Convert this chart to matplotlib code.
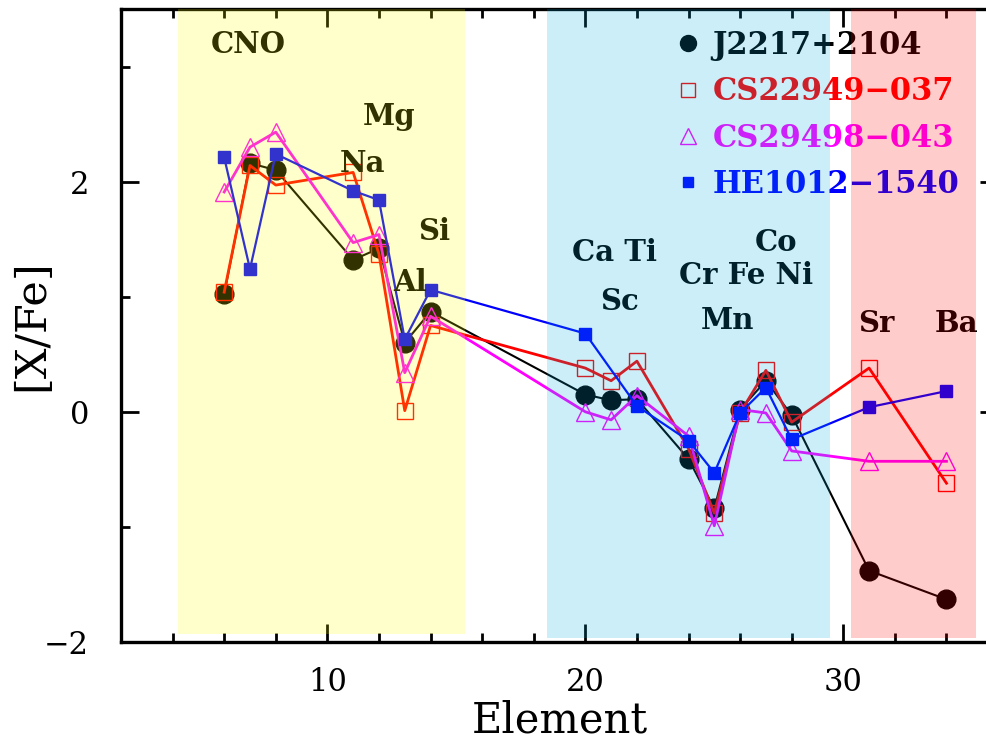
import matplotlib
matplotlib.use('Agg')
import matplotlib.pyplot as plt
from matplotlib.lines import Line2D
from matplotlib.ticker import MultipleLocator

# atomic numbers (Sr and Ba are placed at 31 and 34 on the plot)
z_all = [6, 7, 8, 11, 12, 13, 14, 20, 21, 22, 24, 25, 26, 27, 28, 31, 34]
z_he = [6, 7, 8, 11, 12, 13, 14, 20, 22, 24, 25, 26, 27, 28, 31, 34]

j2217 = [1.02, 2.16, 2.10, 1.32, 1.42, 0.60, 0.87, 0.15, 0.10, 0.11,
         -0.41, -0.84, 0.02, 0.27, -0.03, -1.38, -1.63]
cs22949 = [1.04, 2.14, 1.97, 2.08, 1.37, 0.01, 0.75, 0.38, 0.27, 0.44,
           -0.32, -0.88, -0.01, 0.36, -0.09, 0.38, -0.62]
cs29498 = [1.91, 2.30, 2.43, 1.47, 1.54, 0.34, 0.83, 0.00, -0.07, 0.14,
           -0.21, -0.99, 0.02, -0.01, -0.34, -0.43, -0.43]
he1012 = [2.21, 1.24, 2.24, 1.92, 1.84, 0.63, 1.06, 0.68, 0.05,
          -0.25, -0.53, -0.01, 0.21, -0.24, 0.04, 0.18]

nomes = ['J2217+2104', 'CS22949\u2212037', 'CS29498\u2212043', 'HE1012\u22121540']
cores = ['black', '#ff0000', '#ff00ff', '#0000ff']

# element labels (text, x, y)
rotulos = [('CNO', 6.92, 3.19), ('Mg', 12.39, 2.57), ('Na', 11.36, 2.16),
           ('Si', 14.13, 1.57), ('Al', 13.19, 1.12), ('Ca Ti', 21.15, 1.38),
           ('Sc', 21.31, 0.96), ('Co', 27.39, 1.47), ('Cr Fe Ni', 26.22, 1.18),
           ('Mn', 25.51, 0.79), ('Sr', 31.27, 0.77), ('Ba', 34.37, 0.77)]

# shaded groups (x0, x1, colour, bottom fraction)
faixas = [(4.2, 15.35, '#ffff00', 0.012), (18.53, 29.49, '#00aadc', 0.006),
          (30.29, 35.15, '#ff0000', 0.006)]

plt.rcParams['font.family'] = ['DejaVu Serif']

fig = plt.figure(figsize=(9.87, 7.41), dpi=100)
ax = fig.add_axes([0.1226, 0.1336, 0.8886, 0.8543])

ax.plot(z_all, j2217, '-', color=cores[0], lw=1.5, marker='o', ms=13.5,
        mfc=cores[0], mec=cores[0], zorder=3)
ax.plot(z_all, cs22949, '-', color=cores[1], lw=2, marker='s', ms=11.5,
        mfc='none', mec=cores[1], mew=1, zorder=4)
ax.plot(z_all, cs29498, '-', color=cores[2], lw=2, marker='^', ms=12.5,
        mfc='none', mec=cores[2], mew=1, zorder=5)
ax.plot(z_he, he1012, '-', color=cores[3], lw=1.6, marker='s', ms=8,
        mfc=cores[3], mec=cores[3], zorder=6)

for texto, x, y in rotulos:
    ax.text(x, y, texto, fontsize=21, fontweight='bold', ha='center',
            va='center', zorder=7)

# legend: markers only
alcas = [Line2D([], [], ls='none', marker='o', ms=11.5, mfc=cores[0], mec=cores[0]),
         Line2D([], [], ls='none', marker='s', ms=10, mfc='none', mec=cores[1], mew=1),
         Line2D([], [], ls='none', marker='^', ms=11, mfc='none', mec=cores[2], mew=1),
         Line2D([], [], ls='none', marker='s', ms=6.5, mfc=cores[3], mec=cores[3])]
leg = ax.legend(alcas, nomes, loc='upper left', bbox_to_anchor=(673 / 987, 1 - 30 / 741),
                bbox_transform=fig.transFigure, frameon=False,
                prop={'size': 22, 'weight': 'bold'},
                labelcolor=cores, handlelength=1.0, handletextpad=0.3,
                labelspacing=0.5, borderpad=0, borderaxespad=0)

# translucent bands drawn over everything
for x0, x1, cor, base in faixas:
    ax.axvspan(x0, x1, ymin=base, ymax=1, color=cor, alpha=0.2, lw=0, zorder=10)

ax.set_xlim(2, 36)
ax.set_ylim(-2, 3.5)
ax.xaxis.set_major_locator(MultipleLocator(10))
ax.xaxis.set_minor_locator(MultipleLocator(2))
ax.yaxis.set_major_locator(MultipleLocator(2))
ax.yaxis.set_minor_locator(MultipleLocator(1))
ax.tick_params(which='both', direction='in', top=True, right=True, width=2)
ax.tick_params(which='major', length=13)
ax.tick_params(which='minor', length=6.5)
ax.tick_params(axis='x', labelsize=22, pad=18)
ax.tick_params(axis='y', labelsize=22, pad=23)
for s in ax.spines.values():
    s.set_linewidth(2.4)

ax.set_xlabel('Element', fontsize=30, labelpad=1)
ax.set_ylabel('[X/Fe]', fontsize=31)
ax.yaxis.set_label_coords(-0.078, 0.5)

fig.savefig('out.png', dpi=100)
